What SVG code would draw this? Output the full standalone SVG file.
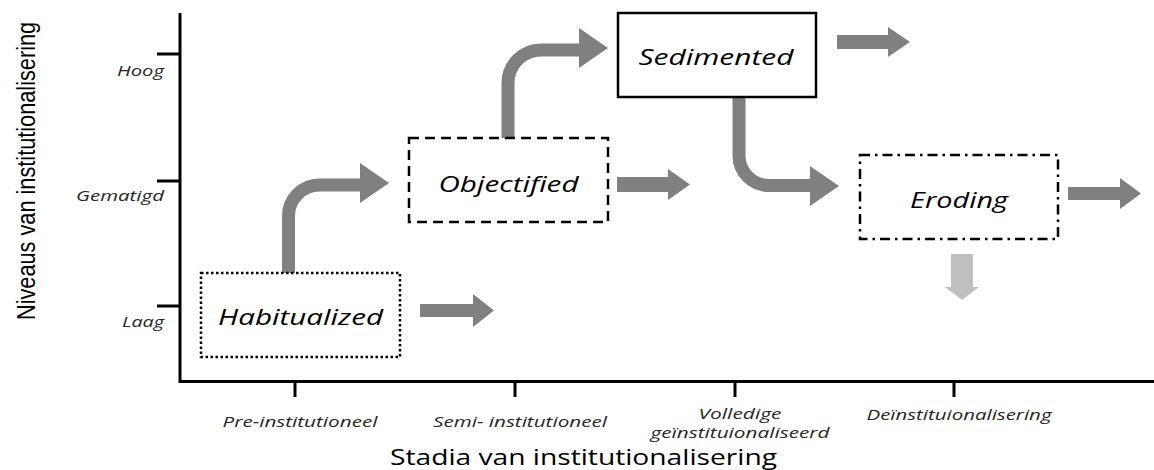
<svg xmlns="http://www.w3.org/2000/svg" width="1154" height="470" viewBox="0 0 1154 470">
<style>
.axis{stroke:#000;stroke-width:3;fill:none}
.box{fill:#fff;stroke:#000;stroke-width:2.5}
.lbl{font-family:"Open Sans","Liberation Sans",sans-serif;font-style:italic;font-size:22px;fill:#000;text-anchor:middle}
.tick{font-family:"Open Sans","Liberation Sans",sans-serif;font-style:italic;font-size:15px;fill:#262626}
.arr{fill:#808080}
.curve{fill:none;stroke:#808080;stroke-width:13}
</style>
<g id="axes">
<path class="axis" d="M180,13 V381.5 H1154"/>
<path class="axis" d="M157,54 H180 M157,181 H180 M157,306 H180"/>
<path class="axis" d="M295,381 V397 M515,381 V397 M735,381 V397 M954,381 V397"/>
<text class="tick" x="164" y="76" text-anchor="end" textLength="47" lengthAdjust="spacingAndGlyphs">Hoog</text>
<text class="tick" x="164" y="201" text-anchor="end" textLength="88" lengthAdjust="spacingAndGlyphs">Gematigd</text>
<text class="tick" x="164" y="327" text-anchor="end" textLength="42" lengthAdjust="spacingAndGlyphs">Laag</text>
<text class="tick" x="300" y="427" text-anchor="middle" textLength="155" lengthAdjust="spacingAndGlyphs">Pre-institutioneel</text>
<text class="tick" x="520" y="427" text-anchor="middle" textLength="174" lengthAdjust="spacingAndGlyphs">Semi- institutioneel</text>
<text class="tick" x="740" y="419" font-size="14" text-anchor="middle" textLength="83" lengthAdjust="spacingAndGlyphs">Volledige</text>
<text class="tick" x="740" y="438" font-size="14" text-anchor="middle" textLength="179" lengthAdjust="spacingAndGlyphs" style="font-size:14px">geïnstituionaliseerd</text>
<text class="tick" x="959" y="420" text-anchor="middle" textLength="185" lengthAdjust="spacingAndGlyphs">Deïnstituionalisering</text>
<text x="390" y="465" font-family="'Open Sans','Liberation Sans',sans-serif" font-size="21" fill="#000" textLength="387" lengthAdjust="spacingAndGlyphs">Stadia van institutionalisering</text>
<text transform="translate(35,320) rotate(-90) scale(0.869,1)" x="0" y="0" font-family="'Liberation Sans',sans-serif" font-size="25" fill="#000">Niveaus van institutionalisering</text>
</g>
<g id="connectors">
<path class="curve" d="M288.5,274 V216 A31,31 0 0 1 319.5,185 H362"/>
<polygon class="arr" points="360,163 389,183 360,203"/>
<path class="curve" d="M508,139 V83 A33,33 0 0 1 541,50 H581"/>
<polygon class="arr" points="579,28 608,48 579,68"/>
<path class="curve" d="M739,96 V155 A30,30 0 0 0 769,185.5 H812" stroke="#8a8a8a"/>
<polygon class="arr" points="810,166 839,186 810,206"/>
<polygon class="arr" points="420,304 473,304 473,294 494,310.5 473,327 473,317 420,317"/>
<polygon class="arr" points="617,177 668,177 668,169 690,184.5 668,200 668,192 617,192"/>
<polygon class="arr" points="837,35 888,35 888,27 910,42 888,57 888,49 837,49"/>
<polygon class="arr" points="1068,187 1120,187 1120,178 1141,193.5 1120,209 1120,200 1068,200"/>
<polygon fill="#bfbfbf" points="951,254 973,254 973,287 979,287 962,300 945,287 951,287"/>
</g>
<g id="habitualized">
<rect class="box" x="201" y="273" width="199" height="84" stroke-dasharray="2.5,2.5"/>
<text class="lbl" x="300.5" y="325" textLength="165" lengthAdjust="spacingAndGlyphs">Habitualized</text>
</g>
<g id="objectified">
<rect class="box" x="409" y="138" width="199" height="84" stroke-dasharray="10,6"/>
<text class="lbl" x="508.5" y="192" textLength="140" lengthAdjust="spacingAndGlyphs">Objectified</text>
</g>
<g id="sedimented">
<rect class="box" x="618" y="13" width="198" height="84"/>
<text class="lbl" x="716" y="65" textLength="155" lengthAdjust="spacingAndGlyphs">Sedimented</text>
</g>
<g id="eroding">
<rect class="box" x="860" y="155" width="198" height="84" stroke-dasharray="10,5,2.5,5"/>
<text class="lbl" x="959" y="208" textLength="98" lengthAdjust="spacingAndGlyphs">Eroding</text>
</g>
</svg>
